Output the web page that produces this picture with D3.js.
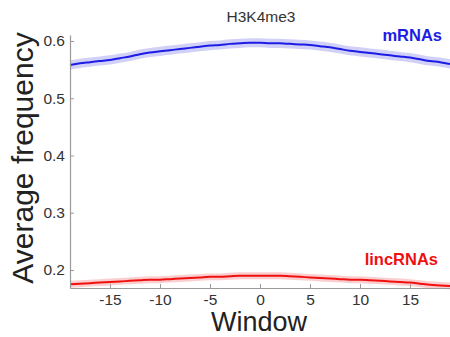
<!DOCTYPE html>
<html>
<head>
<meta charset="utf-8">
<script src="https://cdn.jsdelivr.net/npm/d3@7"></script>
<style>
  body { margin: 0; background: #fff; }
  text { font-family: "Liberation Sans", Arial, sans-serif; }
</style>
</head>
<body>
<div id="chart"></div>
<script>
const WIDTH = 450;
const HEIGHT = 337;

const windows = d3.range(-19, 20);
const mrnaMean = [0.558, 0.561, 0.563, 0.565, 0.567, 0.570, 0.573, 0.577, 0.580, 0.582,
                  0.584, 0.586, 0.588, 0.590, 0.592, 0.593, 0.595, 0.596, 0.597, 0.597,
                  0.596, 0.596, 0.595, 0.594, 0.593, 0.591, 0.589, 0.586, 0.583, 0.581,
                  0.579, 0.577, 0.575, 0.573, 0.571, 0.568, 0.565, 0.563, 0.560];
const mrnaErr = [0.008, 0.008, 0.008, 0.008, 0.008, 0.008, 0.008, 0.008, 0.008, 0.008,
                 0.008, 0.008, 0.008, 0.008, 0.008, 0.008, 0.008, 0.008, 0.008, 0.008,
                 0.008, 0.008, 0.008, 0.008, 0.008, 0.008, 0.008, 0.008, 0.008, 0.008,
                 0.008, 0.008, 0.008, 0.008, 0.008, 0.008, 0.008, 0.008, 0.008];
const lincMean = [0.175, 0.176, 0.177, 0.178, 0.179, 0.180, 0.181, 0.182, 0.183, 0.183,
                  0.184, 0.185, 0.186, 0.187, 0.188, 0.188, 0.189, 0.190, 0.190, 0.190,
                  0.190, 0.190, 0.189, 0.188, 0.187, 0.186, 0.185, 0.184, 0.183, 0.183,
                  0.182, 0.181, 0.180, 0.179, 0.178, 0.176, 0.174, 0.173, 0.172];
const lincErr = [0.006, 0.006, 0.006, 0.006, 0.006, 0.006, 0.006, 0.006, 0.006, 0.006,
                 0.006, 0.006, 0.006, 0.006, 0.006, 0.006, 0.006, 0.006, 0.006, 0.006,
                 0.006, 0.006, 0.006, 0.006, 0.006, 0.006, 0.006, 0.006, 0.006, 0.006,
                 0.006, 0.006, 0.006, 0.006, 0.006, 0.006, 0.006, 0.006, 0.006];
const xTicks = [-15, -10, -5, 0, 5, 10, 15];
const yTicks = [0.2, 0.3, 0.4, 0.5, 0.6];

const MARGIN = { TOP: 35, BOTTOM: 49, LEFT: 70, RIGHT: 0 };
const widthSVG = WIDTH - MARGIN.LEFT - MARGIN.RIGHT;
const heightSVG = HEIGHT - MARGIN.TOP - MARGIN.BOTTOM;

const SVG = d3.select('#chart')
    .append('svg')
    .attr('width', WIDTH)
    .attr('height', HEIGHT);

const container = SVG.append('g')
    .attr('transform', `translate(${MARGIN.LEFT}, ${MARGIN.TOP})`);

const x = d3.scaleLinear().domain([-19, 19]).range([0, widthSVG]);
const y = d3.scaleLinear().domain([0.1685, 0.6105]).range([heightSVG, 0]);

const series = [
    { name: 'mRNAs', mean: mrnaMean, err: mrnaErr, line: '#1c1ce6', band: '#c9c9f7' },
    { name: 'lincRNAs', mean: lincMean, err: lincErr, line: '#f01010', band: '#f9c6c6' }
];

const area = d3.area()
    .x(d => x(d.w))
    .y0(d => y(d.m - d.e))
    .y1(d => y(d.m + d.e))
    .curve(d3.curveMonotoneX);

const line = d3.line()
    .x(d => x(d.w))
    .y(d => y(d.m))
    .curve(d3.curveMonotoneX);

series.forEach(s => {
    const pts = windows.map((w, i) => ({ w: w, m: s.mean[i], e: s.err[i] }));
    container.append('path')
        .attr('d', area(pts))
        .attr('fill', s.band)
        .attr('opacity', 0.85);
    container.append('path')
        .attr('d', line(pts))
        .attr('fill', 'none')
        .attr('stroke', s.line)
        .attr('stroke-width', 2);
});

// axes
const xAxis = container.append('g')
    .attr('transform', `translate(0, ${heightSVG})`)
    .call(d3.axisBottom(x).tickValues(xTicks).tickFormat(d => String(d))
        .tickSizeInner(-4).tickSizeOuter(0).tickPadding(6));

const yAxis = container.append('g')
    .call(d3.axisLeft(y).tickValues(yTicks).tickFormat(d3.format('.1f'))
        .tickSizeInner(-4).tickSizeOuter(0).tickPadding(5));

[xAxis, yAxis].forEach(a => {
    a.select('.domain').attr('stroke', '#9a9a9a').attr('stroke-width', 1.2);
    a.selectAll('.tick line').attr('stroke', '#9a9a9a');
    a.selectAll('.tick text')
        .attr('fill', '#333')
        .style('font-size', '15.5px')
        .style('font-family', '"Liberation Sans", Arial, sans-serif');
});

// labels
SVG.append('text')
    .attr('x', 261)
    .attr('y', 22)
    .attr('text-anchor', 'middle')
    .attr('fill', '#333')
    .style('font-size', '15.5px')
    .text('H3K4me3');

SVG.append('text')
    .attr('x', 259)
    .attr('y', 331)
    .attr('text-anchor', 'middle')
    .attr('fill', '#222')
    .style('font-size', '27px')
    .text('Window');

SVG.append('text')
    .attr('transform', 'translate(33, 158) rotate(-90)')
    .attr('text-anchor', 'middle')
    .attr('fill', '#222')
    .style('font-size', '30px')
    .text('Average frequency');

SVG.append('text')
    .attr('x', 442)
    .attr('y', 41)
    .attr('text-anchor', 'end')
    .attr('fill', '#1c1ce6')
    .style('font-size', '16.5px')
    .style('font-weight', 'bold')
    .text('mRNAs');

SVG.append('text')
    .attr('x', 438)
    .attr('y', 265)
    .attr('text-anchor', 'end')
    .attr('fill', '#f01010')
    .style('font-size', '16.5px')
    .style('font-weight', 'bold')
    .text('lincRNAs');
</script>
</body>
</html>
